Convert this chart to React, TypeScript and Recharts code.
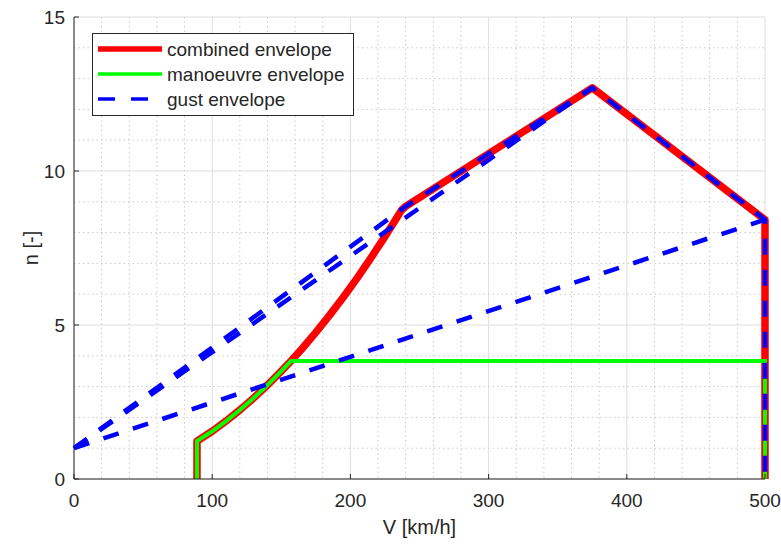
import { LineChart, Line, XAxis, YAxis, CartesianGrid, Legend, Label } from 'recharts';

// axis ticks
const xTicks = [0, 100, 200, 300, 400, 500];
const yTicks = [0, 5, 10, 15];
const xMinor = [20, 40, 60, 80, 120, 140, 160, 180, 220, 240, 260, 280, 320, 340, 360, 380, 420, 440, 460, 480];
const yMinor = [1, 2, 3, 4, 6, 7, 8, 9, 11, 12, 13, 14];

// combined envelope (V in km/h, n in -)
const combinedV = [89, 89, 100, 110, 120, 130, 140, 150, 157, 165, 175, 185, 195, 205, 215, 225, 232, 237, 240, 375, 500, 500];
const combinedN = [0, 1.23, 1.55, 1.88, 2.24, 2.63, 3.05, 3.5, 3.83, 4.23, 4.76, 5.32, 5.91, 6.53, 7.19, 7.87, 8.37, 8.73, 8.85, 12.7, 8.42, 0];

// manoeuvre envelope
const manoeuvreV = [89, 89, 100, 110, 120, 130, 140, 150, 157, 500, 500];
const manoeuvreN = [0, 1.23, 1.55, 1.88, 2.24, 2.63, 3.05, 3.5, 3.83, 3.83, 0];

// gust envelope: outline plus the two gust lines from n = 1
const gustOutlineV = [0, 240, 375, 500, 500];
const gustOutlineN = [1, 8.85, 12.7, 8.42, 0];
const gustCruiseV = [0, 375];
const gustCruiseN = [1, 12.7];
const gustDiveV = [0, 500];
const gustDiveN = [1, 8.42];

const toPoints = (v: number[], n: number[]) => v.map((x, i) => ({ v: x, n: n[i] }));

const FONT = '"Liberation Sans", Arial, Helvetica, sans-serif';
const TEXT = '#262626';
const RED = '#ff0000';
const GREEN = '#00ff00';
const BLUE = '#0000ff';
const DASH = '16 15';

function EnvelopeLegend() {
  return (
    <svg width={262} height={83} style={{ display: 'block' }}>
      <rect x={0.5} y={0.5} width={261} height={82} fill="#fff" stroke={TEXT} />
      <line x1={6} y1={16} x2={70} y2={16} stroke={RED} strokeWidth={5.5} />
      <line x1={6} y1={41} x2={70} y2={41} stroke={GREEN} strokeWidth={3.5} />
      <line x1={6} y1={66} x2={70} y2={66} stroke={BLUE} strokeWidth={3.5} strokeDasharray="17 16" />
      <g fill={TEXT} fontSize={19} fontFamily={FONT}>
        <text x={75} y={16} dominantBaseline="central">combined envelope</text>
        <text x={75} y={41} dominantBaseline="central">manoeuvre envelope</text>
        <text x={75} y={66} dominantBaseline="central">gust envelope</text>
      </g>
    </svg>
  );
}

const XLabel = ({ viewBox }: any) => (
  <text x={viewBox.x + viewBox.width / 2} y={viewBox.y + 55} textAnchor="middle" fill={TEXT} fontSize={20} fontFamily={FONT}>
    V [km/h]
  </text>
);

const YLabel = ({ viewBox }: any) => {
  const cx = viewBox.x + 31;
  const cy = viewBox.y + viewBox.height / 2;
  return (
    <text x={cx} y={cy} transform={`rotate(-90 ${cx} ${cy})`} textAnchor="middle" dominantBaseline="central" fill={TEXT} fontSize={20} fontFamily={FONT}>
      n [-]
    </text>
  );
};

export default function App() {
  const tickStyle = { fill: TEXT, fontSize: 19, fontFamily: FONT };
  return (
    <div style={{ position: 'absolute', left: 0, top: 0, background: '#fff' }}>
      <LineChart width={781} height={547} margin={{ top: 17, right: 16, left: 0, bottom: 0 }}>
        <CartesianGrid stroke="#cacaca" strokeDasharray="1.5 3" horizontalValues={yMinor} verticalValues={xMinor} />
        <CartesianGrid stroke="#dedede" />
        <XAxis
          dataKey="v"
          type="number"
          domain={[0, 500]}
          ticks={xTicks}
          interval={0}
          height={68}
          tickSize={-5}
          tickMargin={20}
          stroke={TEXT}
          tick={tickStyle}
        >
          <Label content={XLabel} />
        </XAxis>
        <YAxis
          dataKey="n"
          type="number"
          domain={[0, 15]}
          ticks={yTicks}
          interval={0}
          width={74}
          tickSize={-5}
          tickMargin={14}
          stroke={TEXT}
          tick={tickStyle}
        >
          <Label content={YLabel} />
        </YAxis>
        <Line
          data={toPoints(combinedV, combinedN)}
          dataKey="n"
          name="combined envelope"
          stroke={RED}
          strokeWidth={7.5}
          strokeLinejoin="round"
          dot={false}
          activeDot={false}
          isAnimationActive={false}
        />
        <Line
          data={toPoints(manoeuvreV, manoeuvreN)}
          dataKey="n"
          name="manoeuvre envelope"
          stroke={GREEN}
          strokeWidth={4}
          dot={false}
          activeDot={false}
          isAnimationActive={false}
        />
        <Line
          data={toPoints(gustOutlineV, gustOutlineN)}
          dataKey="n"
          name="gust envelope"
          stroke={BLUE}
          strokeWidth={4.5}
          strokeDasharray={DASH}
          dot={false}
          activeDot={false}
          isAnimationActive={false}
        />
        <Line
          data={toPoints(gustCruiseV, gustCruiseN)}
          dataKey="n"
          legendType="none"
          stroke={BLUE}
          strokeWidth={4.5}
          strokeDasharray={DASH}
          dot={false}
          activeDot={false}
          isAnimationActive={false}
        />
        <Line
          data={toPoints(gustDiveV, gustDiveN)}
          dataKey="n"
          legendType="none"
          stroke={BLUE}
          strokeWidth={4.5}
          strokeDasharray={DASH}
          dot={false}
          activeDot={false}
          isAnimationActive={false}
        />
        <Legend
          layout="vertical"
          align="center"
          verticalAlign="middle"
          content={() => <EnvelopeLegend />}
          wrapperStyle={{ left: 92, top: 33, width: 262, height: 83 }}
        />
      </LineChart>
    </div>
  );
}
